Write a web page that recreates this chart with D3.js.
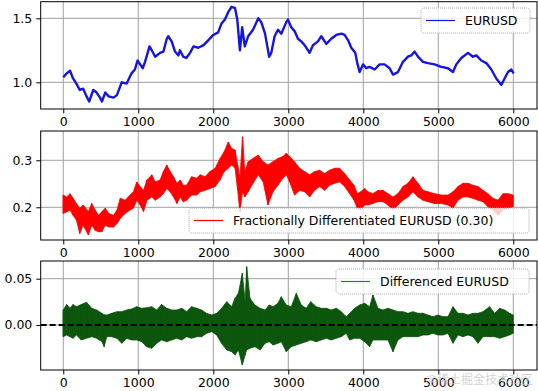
<!DOCTYPE html>
<html>
<head>
<meta charset="utf-8">
<script src="https://cdn.jsdelivr.net/npm/d3@7"></script>
<style>
  body { margin: 0; background: #fff; }
  text { font-family: "DejaVu Sans", sans-serif; }
</style>
</head>
<body>
<div id="chart"></div>
<script>
// Chart data

// x ticks shared by all three panels
var xTicks = [0, 1000, 2000, 3000, 4000, 5000, 6000];

// Panel 1: EURUSD price
var eurIdx = [0, 45, 90, 130, 175, 220, 265, 310, 345, 400, 445, 490, 515, 560, 605, 670, 715, 760, 780, 845,
  910, 955, 990, 1025, 1060, 1090, 1150, 1180, 1225, 1290, 1335, 1380, 1400, 1445, 1490, 1535, 1555, 1600, 1640, 1690,
  1735, 1800, 1870, 1935, 2000, 2065, 2110, 2155, 2200, 2245, 2290, 2320, 2355, 2385, 2420, 2465, 2530, 2600, 2640, 2690,
  2745, 2773, 2818, 2862, 2907, 2973, 2995, 3040, 3084, 3129, 3173, 3218, 3284, 3329, 3396, 3440, 3507, 3573, 3640, 3707,
  3751, 3796, 3840, 3893, 3920, 3951, 3996, 4040, 4084, 4151, 4218, 4284, 4351, 4396, 4462, 4529, 4596, 4640, 4684, 4729,
  4796, 4862, 4951, 5040, 5129, 5196, 5240, 5307, 5396, 5462, 5507, 5573, 5640, 5707, 5773, 5840, 5884, 5929, 5973, 6004];
var eurVal = [1.04, 1.07, 1.09, 1.03, 0.99, 0.94, 0.95, 0.89, 0.85, 0.94, 0.92, 0.88, 0.85, 0.92, 0.89, 0.88, 0.90, 0.97, 1.00, 0.99,
  1.07, 1.10, 1.17, 1.14, 1.11, 1.16, 1.28, 1.25, 1.20, 1.23, 1.24, 1.34, 1.36, 1.32, 1.24, 1.21, 1.25, 1.20, 1.19, 1.23,
  1.28, 1.27, 1.29, 1.33, 1.37, 1.39, 1.46, 1.49, 1.55, 1.59, 1.58, 1.49, 1.25, 1.43, 1.28, 1.36, 1.41, 1.50, 1.47, 1.38,
  1.20, 1.23, 1.36, 1.41, 1.38, 1.47, 1.49, 1.43, 1.40, 1.34, 1.32, 1.29, 1.23, 1.29, 1.32, 1.36, 1.30, 1.34, 1.37, 1.38,
  1.37, 1.33, 1.27, 1.23, 1.15, 1.08, 1.14, 1.11, 1.12, 1.10, 1.14, 1.14, 1.11, 1.06, 1.08, 1.16, 1.20, 1.21, 1.24, 1.20,
  1.16, 1.15, 1.14, 1.12, 1.11, 1.08, 1.14, 1.19, 1.23, 1.20, 1.21, 1.17, 1.15, 1.10, 1.03, 0.98, 1.03, 1.08, 1.10, 1.07];
var eurTicks = [1.0, 1.5];

// Panel 2: fractionally differentiated series (upper / lower edge of the noisy band)
var fracIdx = [0, 45, 90, 130, 175, 220, 265, 335, 380, 425, 470, 515, 560, 605, 670, 715, 760, 825, 890, 935,
  980, 1025, 1070, 1115, 1180, 1225, 1290, 1335, 1380, 1425, 1470, 1515, 1560, 1600, 1645, 1710, 1780, 1825, 1890, 1955,
  2025, 2090, 2145, 2200, 2245, 2290, 2325, 2355, 2390, 2420, 2465, 2530, 2600, 2665, 2729, 2796, 2862, 2929, 2973, 3018,
  3084, 3151, 3218, 3284, 3351, 3418, 3484, 3551, 3618, 3684, 3751, 3818, 3876, 3920, 3964, 4018, 4062, 4129, 4196, 4262,
  4329, 4396, 4462, 4529, 4596, 4662, 4729, 4796, 4862, 4951, 5040, 5129, 5196, 5262, 5329, 5396, 5462, 5529, 5596, 5662,
  5729, 5796, 5862, 5929, 5996];
var fracHi = [0.226, 0.222, 0.229, 0.219, 0.208, 0.198, 0.205, 0.191, 0.208, 0.194, 0.183, 0.191, 0.198, 0.187, 0.183, 0.194, 0.219, 0.215, 0.226, 0.233,
  0.254, 0.244, 0.236, 0.258, 0.269, 0.254, 0.258, 0.276, 0.290, 0.276, 0.265, 0.251, 0.258, 0.247, 0.247, 0.265, 0.262, 0.269, 0.265, 0.276,
  0.283, 0.304, 0.318, 0.339, 0.325, 0.322, 0.290, 0.262, 0.350, 0.276, 0.297, 0.304, 0.311, 0.297, 0.290, 0.297, 0.304, 0.308, 0.315, 0.308,
  0.297, 0.283, 0.276, 0.269, 0.276, 0.279, 0.272, 0.279, 0.283, 0.283, 0.272, 0.258, 0.247, 0.229, 0.233, 0.240, 0.233, 0.229, 0.236, 0.236,
  0.229, 0.222, 0.229, 0.244, 0.251, 0.265, 0.251, 0.236, 0.233, 0.229, 0.226, 0.226, 0.233, 0.244, 0.251, 0.251, 0.247, 0.244, 0.236, 0.229,
  0.219, 0.215, 0.229, 0.229, 0.226];
var fracLo = [0.187, 0.190, 0.194, 0.183, 0.173, 0.144, 0.162, 0.141, 0.162, 0.151, 0.148, 0.148, 0.162, 0.158, 0.158, 0.165, 0.176, 0.187, 0.194, 0.198,
  0.215, 0.205, 0.191, 0.215, 0.222, 0.215, 0.222, 0.229, 0.240, 0.233, 0.222, 0.208, 0.222, 0.212, 0.215, 0.226, 0.226, 0.233, 0.236, 0.240,
  0.244, 0.258, 0.276, 0.283, 0.290, 0.283, 0.236, 0.190, 0.233, 0.222, 0.233, 0.251, 0.269, 0.254, 0.205, 0.233, 0.247, 0.262, 0.269, 0.254,
  0.226, 0.236, 0.233, 0.222, 0.236, 0.244, 0.236, 0.247, 0.251, 0.254, 0.244, 0.229, 0.215, 0.198, 0.194, 0.205, 0.205, 0.208, 0.212, 0.212,
  0.205, 0.194, 0.205, 0.215, 0.222, 0.233, 0.222, 0.215, 0.212, 0.208, 0.208, 0.205, 0.198, 0.215, 0.222, 0.222, 0.219, 0.215, 0.212, 0.201,
  0.194, 0.183, 0.194, 0.198, 0.201];
var fracTicks = [0.2, 0.3];

// Panel 3: first difference (upper / lower edge of the noisy band)
var diffIdx = [0, 45, 90, 130, 175, 240, 310, 380, 445, 515, 545, 580, 645, 715, 780, 845, 910, 980, 1045, 1110,
  1180, 1245, 1310, 1380, 1445, 1510, 1580, 1645, 1710, 1780, 1845, 1910, 1980, 2045, 2110, 2180, 2245, 2290, 2335, 2387,
  2425, 2445, 2490, 2555, 2625, 2690, 2745, 2796, 2862, 2907, 2973, 3040, 3107, 3173, 3240, 3298, 3373, 3440, 3507, 3573,
  3640, 3707, 3773, 3818, 3884, 3951, 4018, 4084, 4129, 4196, 4262, 4329, 4396, 4462, 4529, 4596, 4662, 4729, 4796, 4862,
  4929, 4996, 5062, 5129, 5196, 5262, 5329, 5396, 5462, 5529, 5596, 5684, 5751, 5818, 5884, 5951, 5996];
var diffHi = [0.0162, 0.0221, 0.0180, 0.0221, 0.0198, 0.0221, 0.0245, 0.0180, 0.0162, 0.0126, 0.0110, 0.0108, 0.0126, 0.0144, 0.0144, 0.0162, 0.0173, 0.0198, 0.0180, 0.0187,
  0.0198, 0.0162, 0.0221, 0.0180, 0.0162, 0.0162, 0.0180, 0.0144, 0.0198, 0.0180, 0.0162, 0.0126, 0.0108, 0.0126, 0.0180, 0.0252, 0.0198, 0.0288, 0.0342, 0.0558,
  0.0252, 0.0630, 0.0288, 0.0216, 0.0180, 0.0162, 0.0216, 0.0198, 0.0234, 0.0306, 0.0216, 0.0198, 0.0342, 0.0216, 0.0180, 0.0252, 0.0198, 0.0180, 0.0180, 0.0162,
  0.0180, 0.0144, 0.0090, 0.0126, 0.0180, 0.0216, 0.0234, 0.0198, 0.0324, 0.0180, 0.0162, 0.0180, 0.0162, 0.0144, 0.0144, 0.0126, 0.0144, 0.0126, 0.0126, 0.0108,
  0.0090, 0.0108, 0.0090, 0.0090, 0.0198, 0.0126, 0.0126, 0.0108, 0.0126, 0.0126, 0.0144, 0.0198, 0.0126, 0.0180, 0.0162, 0.0126, 0.0108];
var diffLo = [-0.0126, -0.0108, -0.0126, -0.0144, -0.0108, -0.0162, -0.0144, -0.0126, -0.0144, -0.0180, -0.0234, -0.0126, -0.0126, -0.0144, -0.0198, -0.0144, -0.0162, -0.0162, -0.0180, -0.0234,
  -0.0252, -0.0198, -0.0162, -0.0180, -0.0162, -0.0144, -0.0162, -0.0126, -0.0144, -0.0126, -0.0126, -0.0090, -0.0072, -0.0108, -0.0198, -0.0270, -0.0288, -0.0324, -0.0270, -0.0432,
  -0.0324, -0.0270, -0.0252, -0.0234, -0.0270, -0.0198, -0.0180, -0.0216, -0.0198, -0.0180, -0.0288, -0.0234, -0.0216, -0.0198, -0.0180, -0.0162, -0.0180, -0.0162, -0.0144, -0.0162,
  -0.0144, -0.0126, -0.0090, -0.0162, -0.0144, -0.0144, -0.0180, -0.0234, -0.0162, -0.0162, -0.0162, -0.0162, -0.0288, -0.0162, -0.0126, -0.0126, -0.0126, -0.0126, -0.0108, -0.0108,
  -0.0090, -0.0108, -0.0108, -0.0090, -0.0198, -0.0108, -0.0126, -0.0108, -0.0126, -0.0198, -0.0126, -0.0126, -0.0126, -0.0144, -0.0126, -0.0108, -0.0090];
var diffTicks = [0.00, 0.05];

// Figure size
var svgWidth = 538;
var svgHeight = 391;

var svg = d3.select("#chart")
  .append("svg")
  .attr("width", svgWidth)
  .attr("height", svgHeight);

// shared x placement of the three axes
var plotLeft = 40.7;
var plotRight = 537;
var x = d3.scaleLinear()
  .domain([-301, 6316])
  .range([plotLeft, plotRight]);

// build one subplot frame with grid, ticks and labels; returns the y scale
function makePanel(top, bottom, yDomain, yTicks, yFormat) {
  var y = d3.scaleLinear().domain(yDomain).range([bottom, top]);
  var g = svg.append("g");

  // grid
  g.selectAll(".vgrid").data(xTicks).enter().append("line")
    .attr("x1", d => x(d)).attr("x2", d => x(d))
    .attr("y1", top).attr("y2", bottom)
    .attr("stroke", "#a0a0a0").attr("stroke-width", 1);
  g.selectAll(".hgrid").data(yTicks).enter().append("line")
    .attr("x1", plotLeft).attr("x2", plotRight)
    .attr("y1", d => y(d)).attr("y2", d => y(d))
    .attr("stroke", "#a0a0a0").attr("stroke-width", 1);

  // axes
  var xa = g.append("g")
    .attr("transform", "translate(0," + bottom + ")")
    .call(d3.axisBottom(x).tickValues(xTicks).tickSize(4.4).tickPadding(4).tickFormat(d3.format("d")));
  var ya = g.append("g")
    .attr("transform", "translate(" + plotLeft + ",0)")
    .call(d3.axisLeft(y).tickValues(yTicks).tickSize(4.4).tickPadding(4).tickFormat(d3.format(yFormat)));
  [xa, ya].forEach(function(a) {
    a.select(".domain").remove();
    a.selectAll("text").attr("font-size", 12.5).attr("font-family", "DejaVu Sans").attr("fill", "#000");
    a.selectAll("line").attr("stroke", "#000").attr("stroke-width", 1);
  });

  var clipId = "clip" + Math.round(top);
  svg.append("clipPath").attr("id", clipId).append("rect")
    .attr("x", plotLeft).attr("y", top)
    .attr("width", plotRight - plotLeft).attr("height", bottom - top);

  var plot = svg.append("g").attr("clip-path", "url(#" + clipId + ")");
  return { y: y, plot: plot, top: top, bottom: bottom };
}

function frame(p) {
  svg.append("rect")
    .attr("x", plotLeft).attr("y", p.top)
    .attr("width", plotRight - plotLeft).attr("height", p.bottom - p.top)
    .attr("fill", "none").attr("stroke", "#000").attr("stroke-width", 1);
}

function legend(p, x0, y0, x1, y1, color, label) {
  var g = svg.append("g");
  g.append("rect")
    .attr("x", x0).attr("y", y0).attr("width", x1 - x0).attr("height", y1 - y0)
    .attr("rx", 3)
    .attr("fill", "#fff").attr("fill-opacity", 0.8)
    .attr("stroke", "#aaa").attr("stroke-width", 1).attr("stroke-dasharray", "1,1");
  var cy = (y0 + y1) / 2;
  g.append("line")
    .attr("x1", x0 + 5).attr("x2", x0 + 34)
    .attr("y1", cy).attr("y2", cy)
    .attr("stroke", color).attr("stroke-width", 1.2);
  g.append("text")
    .attr("x", x0 + 44).attr("y", cy)
    .attr("dominant-baseline", "central")
    .attr("font-size", 12.5)
    .attr("fill", "#000")
    .text(label);
}

// band between the lower and upper edges of a noisy series
function band(p, idx, hi, lo, color) {
  var rows = idx.map((d, i) => [d, hi[i], lo[i]]);
  p.plot.append("path")
    .datum(rows)
    .attr("fill", color)
    .attr("stroke", color)
    .attr("stroke-width", 0.8)
    .attr("d", d3.area().x(d => x(d[0])).y0(d => p.y(d[2])).y1(d => p.y(d[1])));
  // spikes at each read sample
  p.plot.selectAll(null).data(rows).enter().append("line")
    .attr("x1", d => x(d[0])).attr("x2", d => x(d[0]))
    .attr("y1", d => p.y(d[1])).attr("y2", d => p.y(d[2]))
    .attr("stroke", color).attr("stroke-width", 1.2);
}

// ---- Panel 1
var p1 = makePanel(1.7, 109, [0.7914, 1.6297], eurTicks, ".1f");
p1.plot.append("path")
  .datum(eurIdx.map((d, i) => [d, eurVal[i]]))
  .attr("fill", "none")
  .attr("stroke", "#1414e6")
  .attr("stroke-width", 2.4)
  .attr("stroke-linejoin", "round")
  .attr("d", d3.line().x(d => x(d[0])).y(d => p1.y(d[1])));
frame(p1);
legend(p1, 421, 8, 530, 33, "#1414e6", "EURUSD");

// ---- Panel 2
var p2 = makePanel(131, 240, [0.1304, 0.3623], fracTicks, ".1f");
band(p2, fracIdx, fracHi, fracLo, "#ff0000");
frame(p2);
legend(p2, 189, 208, 529, 233, "#ff0000", "Fractionally Differentiated EURUSD (0.30)");

// ---- Panel 3
var p3 = makePanel(261, 370, [-0.0486, 0.0691], diffTicks, ".2f");
band(p3, diffIdx, diffHi, diffLo, "#0d560d");
// zero reference line
p3.plot.append("line")
  .attr("x1", plotLeft).attr("x2", plotRight)
  .attr("y1", p3.y(0)).attr("y2", p3.y(0))
  .attr("stroke", "#000").attr("stroke-width", 1.9)
  .attr("stroke-dasharray", "6,3");
frame(p3);
legend(p3, 336, 269, 529, 294, "#2e7d2e", "Differenced EURUSD");

// watermark
svg.append("text")
  .attr("x", 533).attr("y", 384)
  .attr("text-anchor", "end")
  .attr("font-size", 12)
  .attr("fill", "#c8c8c8")
  .attr("fill-opacity", 0.8)
  .style("font-family", "'Noto Sans CJK SC'")
  .text("@稀土掘金技术社区");
</script>
</body>
</html>
